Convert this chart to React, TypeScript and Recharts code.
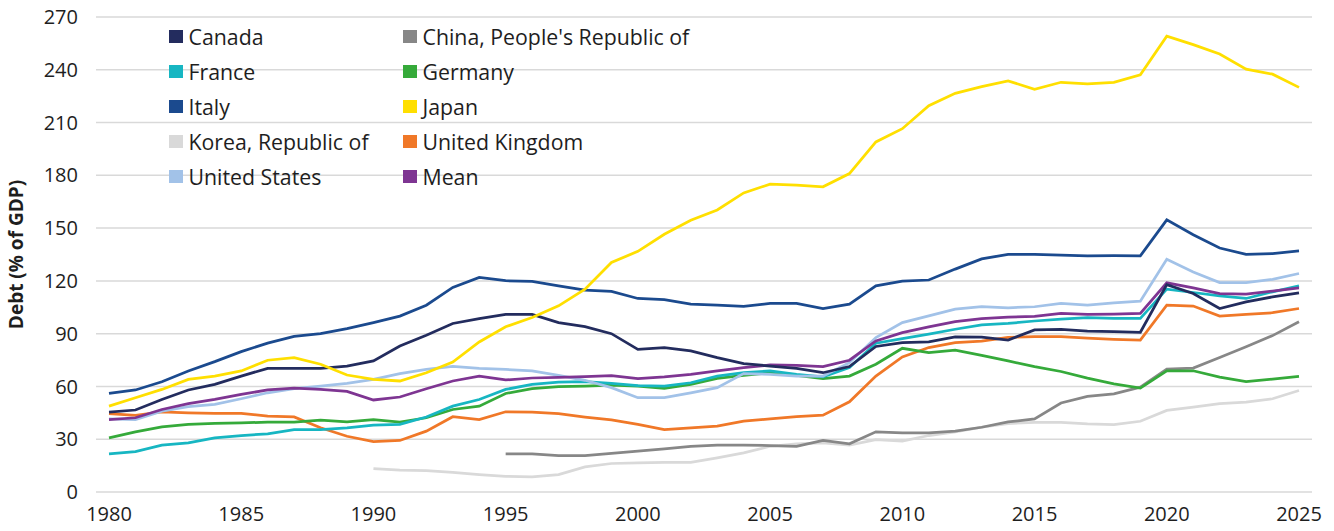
import React from "react";
import { LineChart, Line, XAxis, YAxis, CartesianGrid, Legend } from "recharts";

const years = [
  1980, 1981, 1982, 1983, 1984, 1985, 1986, 1987, 1988, 1989,
  1990, 1991, 1992, 1993, 1994, 1995, 1996, 1997, 1998, 1999,
  2000, 2001, 2002, 2003, 2004, 2005, 2006, 2007, 2008, 2009,
  2010, 2011, 2012, 2013, 2014, 2015, 2016, 2017, 2018, 2019,
  2020, 2021, 2022, 2023, 2024, 2025,
];

const canada = [
  45.4, 46.6, 52.6, 58, 61.2, 65.9, 70.3, 70.3, 70.3, 71.6,
  74.5, 83, 89.1, 95.8, 98.6, 101, 101, 96.3, 94, 90,
  81.1, 82.1, 80.2, 76.4, 73, 71.6, 70.3, 67.8, 71.3, 82.7,
  84.9, 85.3, 88.2, 88, 86.4, 92.1, 92.5, 91.5, 91.1, 90.8,
  117.9, 112.8, 104.3, 108.1, 110.9, 113.2,
];

const china = [
  null, null, null, null, null, null, null, null, null, null,
  null, null, null, null, null, 21.7, 21.7, 20.7, 20.7, 21.9,
  23.2, 24.5, 26, 26.6, 26.6, 26.4, 26, 29.3, 27.4, 34.2,
  33.6, 33.6, 34.6, 36.8, 39.8, 41.5, 50.6, 54.3, 55.8, 59.6,
  69.8, 70.4, 76.4, 82.6, 88.9, 96.8,
];

const france = [
  21.7, 23, 26.6, 27.9, 30.8, 32.1, 33.1, 35.5, 35.5, 36.5,
  38, 38.5, 42.6, 48.8, 52.6, 58.3, 61.2, 62.5, 62.7, 61.8,
  60.5, 60.2, 62.1, 65.9, 67.8, 68.8, 66.9, 65.4, 70.7, 84.6,
  87.2, 89.7, 92.5, 95, 95.8, 97.2, 98.3, 99.1, 98.7, 98.7,
  115.3, 113.4, 111.5, 110, 113.8, 117.2,
];

const germany = [
  30.8, 34.2, 37, 38.4, 39, 39.3, 39.7, 39.7, 40.9, 39.9,
  41.2, 39.7, 42.2, 46.9, 48.8, 56, 58.7, 59.9, 60.2, 60.8,
  60.2, 58.9, 61.2, 64.6, 66.3, 67.8, 66.3, 64.4, 65.9, 72.6,
  81.7, 79.2, 80.6, 77.7, 74.5, 71.3, 68.5, 64.7, 61.5, 59.1,
  68.9, 68.9, 65.3, 62.8, 64.2, 65.7,
];

const italy = [
  56, 58, 62.7, 68.8, 74.1, 79.8, 84.6, 88.4, 90, 92.9,
  96.3, 100, 106.2, 116.3, 122, 120.1, 119.7, 117.2, 114.8, 114,
  110, 109.3, 106.8, 106.2, 105.5, 107.2, 107.2, 104.3, 106.8, 117.2,
  119.9, 120.5, 126.7, 132.5, 135.1, 135.1, 134.7, 134.2, 134.3, 134.2,
  154.7, 146.2, 138.7, 135.1, 135.5, 137,
];

const japan = [
  48.8, 53.6, 58.3, 64, 65.9, 68.8, 74.9, 76.4, 72.6, 66.5,
  64, 63.1, 67.8, 73.9, 85.3, 93.9, 99.2, 105.8, 115.3, 130.5,
  136.8, 146.5, 154.5, 160.3, 170, 175, 174.5, 173.5, 181, 199,
  206.5, 219.6, 226.6, 230.4, 233.7, 228.9, 232.9, 232, 232.9, 237.1,
  259.1, 254.3, 249, 240.4, 237.5, 230,
];

const korea = [
  null, null, null, null, null, null, null, null, null, null,
  13.3, 12.4, 12.2, 11.2, 9.9, 8.9, 8.6, 9.9, 14.3, 16.2,
  16.5, 16.9, 16.9, 19.4, 22.2, 26, 27.4, 27.9, 26.6, 29.8,
  28.9, 32.1, 34.2, 36.8, 38.9, 39.6, 39.6, 38.7, 38.3, 40.2,
  46.4, 48.3, 50.2, 51.1, 53, 57.7,
];

const unitedKingdom = [
  44.5, 43.5, 45.6, 45, 44.7, 44.7, 43.1, 42.7, 36.5, 31.7,
  28.7, 29.3, 34.6, 42.8, 41.2, 45.6, 45.4, 44.5, 42.6, 41,
  38.4, 35.5, 36.5, 37.4, 40.3, 41.6, 42.8, 43.7, 51.3, 65.9,
  76.8, 82.1, 84.9, 85.7, 87.9, 88.3, 88.3, 87.4, 86.8, 86.4,
  106.2, 105.7, 100, 100.9, 101.9, 104.3,
];

const unitedStates = [
  41.6, 41.2, 46, 48.5, 49.8, 53, 56.4, 58.7, 60.2, 61.8,
  64, 67.3, 69.7, 71.4, 70.3, 69.7, 68.8, 66.3, 63.5, 59.3,
  53.6, 53.6, 56.4, 59.3, 67.3, 66.9, 65.9, 65.9, 73.5, 87.8,
  96.3, 100.1, 103.9, 105.3, 104.7, 105.3, 107.2, 106.2, 107.5, 108.5,
  132.3, 125.1, 119, 119, 120.9, 124.2,
];

const mean = [
  41.2, 42.2, 46.9, 50.2, 52.6, 55.5, 58, 59.1, 58.3, 57.2,
  52.3, 54, 58.7, 63.1, 65.9, 63.7, 64.8, 65.2, 65.6, 66.1,
  64.4, 65.4, 66.9, 68.8, 70.7, 72.2, 72, 71.3, 74.9, 85.9,
  90.6, 93.9, 96.9, 98.6, 99.4, 99.8, 101.5, 100.9, 101.1, 101.5,
  118.9, 116, 112.8, 112.5, 114.2, 116,
];

const yTicks = [0, 30, 60, 90, 120, 150, 180, 210, 240, 270];

const seriesDefs = [
  { key: "canada", name: "Canada", color: "#232c5e", values: canada },
  { key: "china", name: "China, People's Republic of", color: "#878787", values: china },
  { key: "france", name: "France", color: "#17b6c2", values: france },
  { key: "germany", name: "Germany", color: "#35aa3a", values: germany },
  { key: "italy", name: "Italy", color: "#1b4a8e", values: italy },
  { key: "japan", name: "Japan", color: "#ffdf00", values: japan },
  { key: "korea", name: "Korea, Republic of", color: "#d9d9d9", values: korea },
  { key: "uk", name: "United Kingdom", color: "#f07828", values: unitedKingdom },
  { key: "us", name: "United States", color: "#a2c2e8", values: unitedStates },
  { key: "mean", name: "Mean", color: "#7e3592", values: mean },
];

// draw order (back to front)
const drawOrder = ["korea", "china", "uk", "germany", "france", "us", "mean", "canada", "italy", "japan"];

const data = years.map((y, i) => {
  const row: Record<string, number | null> = { year: y };
  seriesDefs.forEach((s) => {
    row[s.key] = s.values[i];
  });
  return row;
});

const FONT = "'Open Sans', 'Noto Sans', sans-serif";
const TEXT = "#1e1e1e";

const renderLegend = () => (
  <div
    style={{
      display: "grid",
      gridTemplateColumns: "234px 330px",
      gridAutoRows: "35px",
      fontFamily: FONT,
      fontSize: 21.3,
      color: TEXT,
    }}
  >
    {seriesDefs.map((s) => (
      <div key={s.key} style={{ display: "flex", alignItems: "center", whiteSpace: "nowrap" }}>
        <span
          style={{
            display: "inline-block",
            width: 13.5,
            height: 13,
            background: s.color,
            marginRight: 6,
            flex: "none",
          }}
        />
        <span>{s.name}</span>
      </div>
    ))}
  </div>
);

export default function App() {
  return (
    <div style={{ position: "absolute", left: 0, top: 0, width: 1334, height: 531, background: "#fff" }}>
      <LineChart
        width={1334}
        height={531}
        data={data}
        margin={{ top: 17, right: 22, bottom: 9, left: 0 }}
      >
        <CartesianGrid vertical={false} stroke="#d9d9d9" strokeWidth={1.5} />
        <XAxis
          dataKey="year"
          interval={4}
          padding={{ left: 13, right: 13 }}
          axisLine={false}
          tickLine={false}
          tickSize={0}
          tickMargin={15}
          height={30}
          tick={{ fill: TEXT, fontSize: 20, fontFamily: FONT }}
        />
        <YAxis
          domain={[0, 270]}
          ticks={yTicks}
          interval={0}
          width={96}
          axisLine={false}
          tickLine={false}
          tickSize={0}
          tickMargin={18}
          tick={{ fill: TEXT, fontSize: 20, fontFamily: FONT }}
          label={{
            value: "Debt (% of GDP)",
            angle: -90,
            position: "insideLeft",
            offset: 16,
            style: {
              textAnchor: "middle",
              fontFamily: FONT,
              fontWeight: 700,
              fontSize: 19,
              fill: TEXT,
            },
          }}
        />
        <Legend
          content={renderLegend}
          layout="vertical"
          align="center"
          verticalAlign="middle"
          wrapperStyle={{ left: 169, top: 19.2, width: 570, height: 180 }}
        />
        {drawOrder.map((k) => {
          const s = seriesDefs.find((d) => d.key === k)!;
          return (
            <Line
              key={s.key}
              type="linear"
              dataKey={s.key}
              name={s.name}
              stroke={s.color}
              strokeWidth={2.75}
              dot={false}
              activeDot={false}
              isAnimationActive={false}
              connectNulls={false}
            />
          );
        })}
      </LineChart>
    </div>
  );
}
